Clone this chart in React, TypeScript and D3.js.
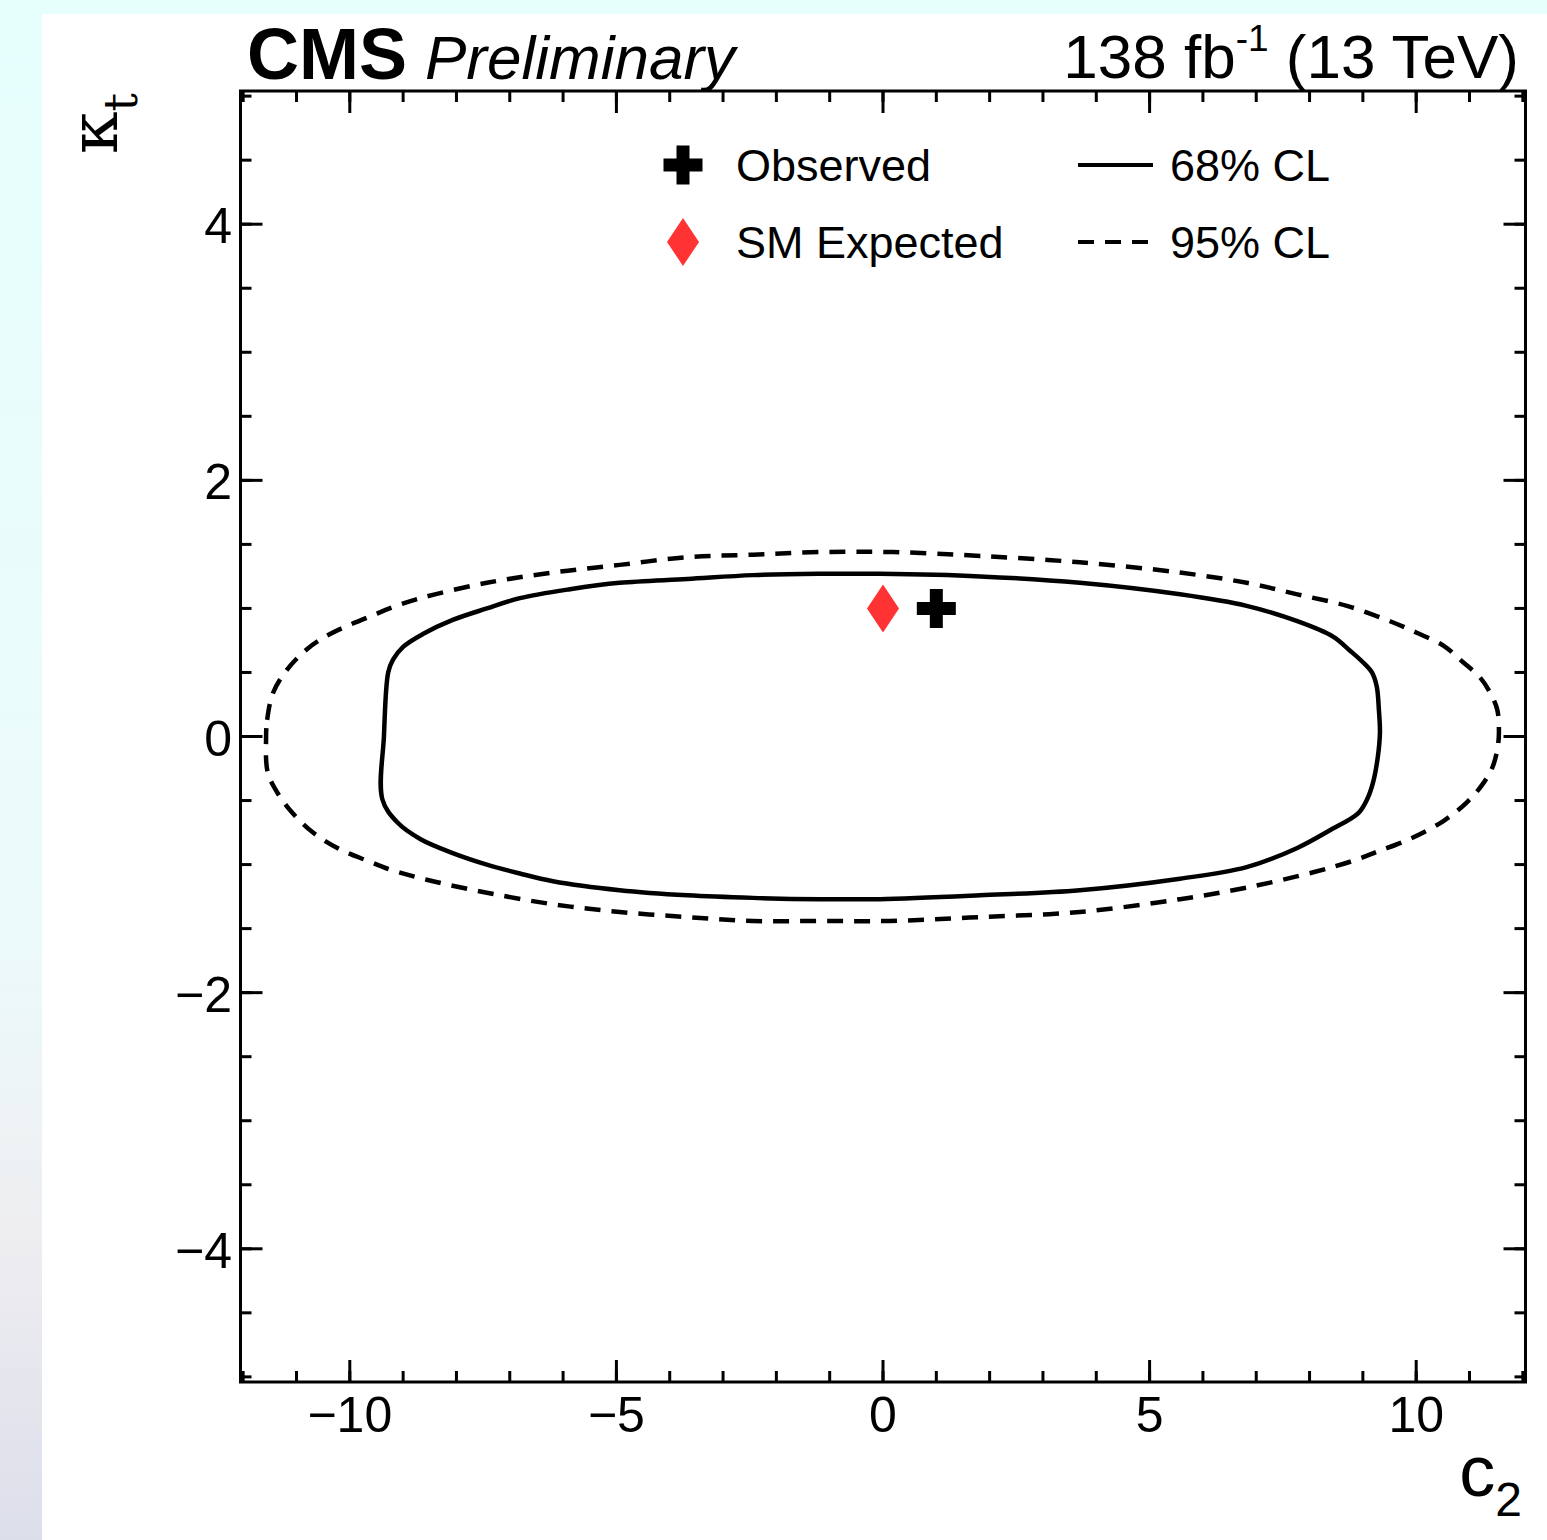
import React from "react";
import * as d3 from "d3";

// 68% CL contour (solid), clockwise from the left edge
const c2_68 = [-9.28, -9.19, -9.0, -8.63, -8.07, -7.43, -6.81, -5.87, -4.94, -3.67, -2.44, -1.18, -0.06, 1.82, 3.69, 5.57, 6.82, 7.77, 8.44, 8.76, 9.0, 9.17, 9.26, 9.3, 9.32, 9.28, 9.19, 9.08, 8.91, 8.39, 7.77, 6.82, 5.57, 3.69, 1.82, -0.06, -1.18, -2.44, -3.67, -4.94, -6.19, -6.81, -7.43, -8.07, -8.68, -9.11, -9.39, -9.36];
const kt_68 = [0.5, 0.6, 0.7, 0.8, 0.91, 1.0, 1.08, 1.15, 1.2, 1.23, 1.26, 1.27, 1.27, 1.25, 1.2, 1.11, 1.02, 0.9, 0.78, 0.67, 0.58, 0.5, 0.39, 0.21, 0.03, -0.16, -0.36, -0.49, -0.6, -0.73, -0.87, -1.02, -1.11, -1.2, -1.24, -1.27, -1.27, -1.26, -1.24, -1.2, -1.13, -1.07, -1.0, -0.91, -0.8, -0.67, -0.49, 0.0];

// 95% CL contour (dashed)
const c2_95 = [-11.57, -11.55, -11.44, -11.18, -10.81, -10.37, -9.49, -9.06, -8.59, -7.43, -6.19, -4.94, -3.67, -2.44, -1.18, 0.19, 1.82, 3.69, 5.57, 6.82, 7.77, 8.7, 9.51, 10.01, 10.51, 10.88, 11.2, 11.39, 11.52, 11.55, 11.54, 11.44, 11.25, 10.96, 10.51, 9.88, 9.26, 8.82, 8.07, 6.82, 5.57, 3.69, 1.82, 0.13, -1.18, -2.44, -3.67, -4.94, -6.19, -7.43, -8.44, -9.24, -9.67, -10.19, -10.69, -11.09, -11.37, -11.54];
const kt_95 = [0.0, 0.13, 0.34, 0.52, 0.68, 0.8, 0.96, 1.03, 1.09, 1.2, 1.28, 1.34, 1.4, 1.42, 1.44, 1.44, 1.41, 1.36, 1.28, 1.2, 1.11, 1.02, 0.9, 0.81, 0.71, 0.58, 0.46, 0.34, 0.21, 0.08, -0.05, -0.23, -0.37, -0.51, -0.66, -0.8, -0.9, -0.97, -1.06, -1.18, -1.27, -1.37, -1.41, -1.44, -1.44, -1.44, -1.41, -1.37, -1.31, -1.22, -1.13, -1.04, -0.97, -0.88, -0.75, -0.59, -0.43, -0.28];

const observed = [1.0, 1.0];
const smExpected = [0.0, 1.0];

const xMajor = [-10, -5, 0, 5, 10];
const xLabels = ["\u221210", "\u22125", "0", "5", "10"];
const yMajor = [-4, -2, 0, 2, 4];
const yLabels = ["\u22124", "\u22122", "0", "2", "4"];

const legendLabels = ["Observed", "SM Expected", "68% CL", "95% CL"];

const W = 1547, H = 1540;
const frame = { left: 240.5, right: 1525.5, top: 91, bottom: 1382 };
const sans = "'Liberation Sans', Arial, Helvetica, sans-serif";

function plusPath(cx: number, cy: number, r: number, t: number) {
    return `M${cx - t},${cy - r}H${cx + t}V${cy - t}H${cx + r}V${cy + t}H${cx + t}V${cy + r}H${cx - t}V${cy + t}H${cx - r}V${cy - t}H${cx - t}Z`;
}

function diamondPath(cx: number, cy: number, w: number, h: number) {
    return `M${cx},${cy - h}L${cx + w},${cy}L${cx},${cy + h}L${cx - w},${cy}Z`;
}

export default function App() {
    const x = d3.scaleLinear().domain([-12.05, 12.05]).range([frame.left, frame.right]);
    const y = d3.scaleLinear().domain([-5.04, 5.04]).range([frame.bottom, frame.top]);

    const line = d3.line<[number, number]>()
        .curve(d3.curveCatmullRomClosed.alpha(0.5))
        .x(d => x(d[0]))
        .y(d => y(d[1]));

    const pts68 = c2_68.map((c, i) => [c, kt_68[i]] as [number, number]);
    const pts95 = c2_95.map((c, i) => [c, kt_95[i]] as [number, number]);

    const xMinor = d3.range(-12, 12.001, 1);
    const yMinor = d3.range(-5, 5.001, 0.5);

    const major = 22, minor = 11;

    return (
        <svg width={W} height={H} style={{ position: "absolute", left: 0, top: 0 }}>
            <defs>
                <linearGradient id="strip" x1="0" y1="0" x2="0" y2="1">
                    <stop offset="0" stopColor="#e6fffd" />
                    <stop offset="0.6" stopColor="#ecfbfa" />
                    <stop offset="0.8" stopColor="#eeeef1" />
                    <stop offset="1" stopColor="#dcdeea" />
                </linearGradient>
            </defs>
            <rect x={0} y={0} width={W} height={H} fill="#ffffff" />
            <rect x={0} y={0} width={42} height={H} fill="url(#strip)" />
            <rect x={0} y={0} width={W} height={14} fill="#e6fffd" />

            {/* contours */}
            <path d={line(pts95) || ""} fill="none" stroke="#000" strokeWidth={4.5} strokeDasharray="16 11" />
            <path d={line(pts68) || ""} fill="none" stroke="#000" strokeWidth={4.5} />

            {/* points */}
            <path d={diamondPath(x(smExpected[0]), y(smExpected[1]), 16, 24)} fill="#ff3333" />
            <path d={plusPath(x(observed[0]), y(observed[1]), 19.5, 6.5)} fill="#000" />

            {/* frame and ticks */}
            <g stroke="#000" strokeWidth={3}>
                {xMinor.map(v => (
                    <g key={"xm" + v}>
                        <line x1={x(v)} x2={x(v)} y1={frame.bottom} y2={frame.bottom - minor} />
                        <line x1={x(v)} x2={x(v)} y1={frame.top} y2={frame.top + minor} />
                    </g>
                ))}
                {xMajor.map(v => (
                    <g key={"xM" + v}>
                        <line x1={x(v)} x2={x(v)} y1={frame.bottom} y2={frame.bottom - major} />
                        <line x1={x(v)} x2={x(v)} y1={frame.top} y2={frame.top + major} />
                    </g>
                ))}
                {yMinor.map(v => (
                    <g key={"ym" + v}>
                        <line y1={y(v)} y2={y(v)} x1={frame.left} x2={frame.left + minor} />
                        <line y1={y(v)} y2={y(v)} x1={frame.right} x2={frame.right - minor} />
                    </g>
                ))}
                {yMajor.map(v => (
                    <g key={"yM" + v}>
                        <line y1={y(v)} y2={y(v)} x1={frame.left} x2={frame.left + major} />
                        <line y1={y(v)} y2={y(v)} x1={frame.right} x2={frame.right - major} />
                    </g>
                ))}
                <rect x={frame.left} y={frame.top} width={frame.right - frame.left} height={frame.bottom - frame.top} fill="none" />
            </g>

            {/* tick labels */}
            <g fontFamily={sans} fontSize={50} fill="#000">
                {xMajor.map((v, i) => (
                    <text key={"xl" + v} x={x(v)} y={1432} textAnchor="middle">{xLabels[i]}</text>
                ))}
                {yMajor.map((v, i) => (
                    <text key={"yl" + v} x={232} y={y(v) + 19} textAnchor="end">{yLabels[i]}</text>
                ))}
            </g>

            {/* axis titles */}
            <text x={1522} y={1496} textAnchor="end" fontFamily={sans} fontSize={72}>
                c<tspan fontSize={48} dy={20}>2</tspan>
            </text>
            <text transform="translate(117,93) rotate(-90)" textAnchor="end" fontFamily="'DejaVu Serif', 'Liberation Serif', serif" fontSize={68}>
                κ<tspan fontSize={46} dy={20}>t</tspan>
            </text>

            {/* header */}
            <text x={247} y={79} fontFamily={sans} fontSize={72} fontWeight="bold">CMS</text>
            <text x={425} y={79} fontFamily={sans} fontSize={62} fontStyle="italic">Preliminary</text>
            <text x={1519} y={78} textAnchor="end" fontFamily={sans} fontSize={62}>
                138 fb<tspan fontSize={37} dy={-27}>-1</tspan><tspan dy={27}> (13 TeV)</tspan>
            </text>

            {/* legend */}
            <g fontFamily={sans} fontSize={45}>
                <path d={plusPath(683, 165, 19.5, 6.5)} fill="#000" />
                <text x={736} y={181}>{legendLabels[0]}</text>
                <path d={diamondPath(683, 242, 16, 24)} fill="#ff3333" />
                <text x={736} y={258}>{legendLabels[1]}</text>
                <line x1={1078} x2={1153} y1={165} y2={165} stroke="#000" strokeWidth={4} />
                <text x={1170} y={181}>{legendLabels[2]}</text>
                <line x1={1078} x2={1150} y1={242} y2={242} stroke="#000" strokeWidth={4} strokeDasharray="16 11" />
                <text x={1170} y={258}>{legendLabels[3]}</text>
            </g>
        </svg>
    );
}
